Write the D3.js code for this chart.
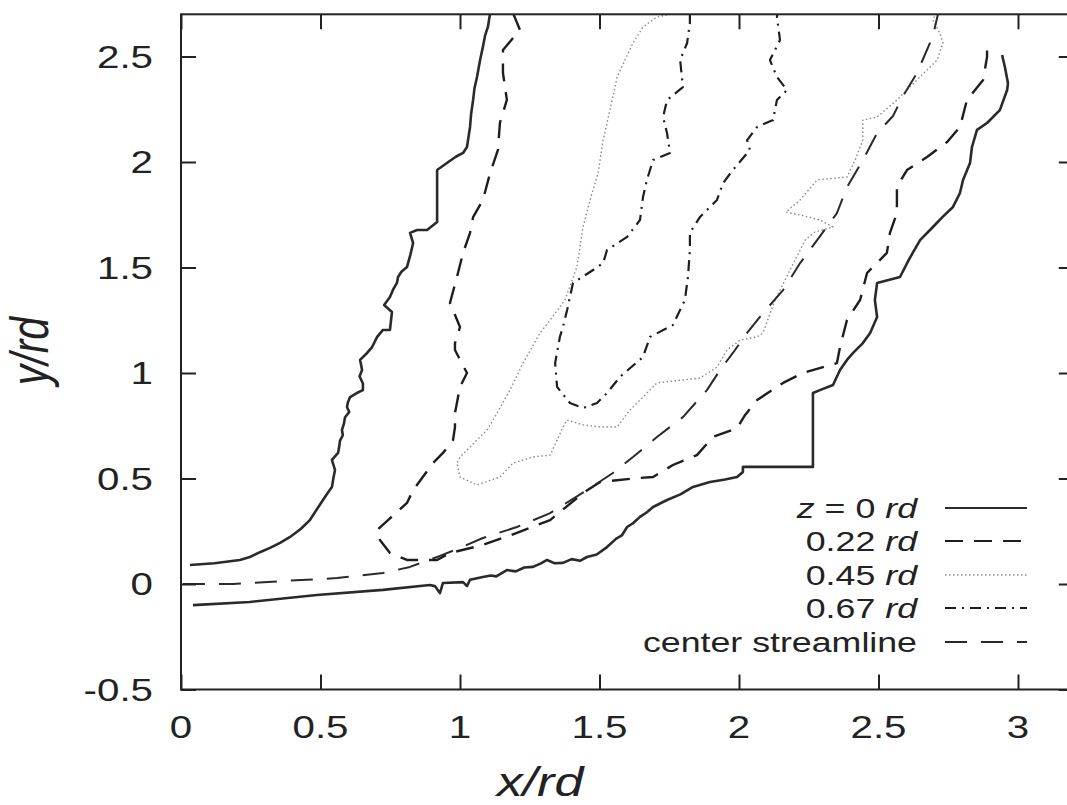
<!DOCTYPE html>
<html>
<head>
<meta charset="utf-8">
<script src="https://cdn.jsdelivr.net/npm/d3@7"></script>
<style>
  body { margin: 0; background: #fff; }
  svg { display: block; }
  text { font-family: "Liberation Sans", Arial, Helvetica, sans-serif; fill: #222; }
</style>
</head>
<body>
<svg id="chart" width="1067" height="805"></svg>
<script>
// Axis ticks and labels
const xTicks = [0, 0.5, 1, 1.5, 2, 2.5, 3];
const xTickLabels = ["0", "0.5", "1", "1.5", "2", "2.5", "3"];
const yTicks = [-0.5, 0, 0.5, 1, 1.5, 2, 2.5];
const yTickLabels = ["-0.5", "0", "0.5", "1", "1.5", "2", "2.5"];

// Contour lines of the jet boundary at several depths z (x/rd, y/rd); null splits a branch
const z000 = [
  [1.108, 2.706], [1.100, 2.640], [1.090, 2.600], [1.082, 2.545], [1.072, 2.483], [1.066, 2.440],
  [1.061, 2.403], [1.052, 2.350], [1.047, 2.294], [1.040, 2.230], [1.036, 2.166], [1.025, 2.071],
  [1.011, 2.043], [0.985, 2.025], [0.953, 1.995], [0.918, 1.962], [0.918, 1.716],
  [0.882, 1.678], [0.846, 1.678], [0.821, 1.664], [0.832, 1.616], [0.822, 1.560], [0.810, 1.502],
  [0.790, 1.480], [0.778, 1.455], [0.774, 1.427], [0.760, 1.395], [0.749, 1.360], [0.728, 1.322],
  [0.756, 1.289], [0.749, 1.204], [0.724, 1.204], [0.703, 1.171], [0.685, 1.123], [0.667, 1.095],
  [0.642, 1.062], [0.649, 1.014], [0.640, 0.985], [0.652, 0.950], [0.652, 0.919], [0.630, 0.905],
  [0.606, 0.886], [0.598, 0.860], [0.595, 0.839], [0.603, 0.815], [0.588, 0.790], [0.584, 0.760],
  [0.577, 0.730], [0.580, 0.705], [0.570, 0.680], [0.567, 0.650], [0.563, 0.621], [0.541, 0.588],
  [0.552, 0.540], [0.546, 0.500], [0.541, 0.460], [0.525, 0.430], [0.509, 0.398], [0.490, 0.360],
  [0.462, 0.303], [0.430, 0.262], [0.391, 0.223], [0.355, 0.195], [0.319, 0.171], [0.285, 0.152],
  [0.247, 0.128], [0.211, 0.114], [0.120, 0.098], [0.032, 0.090],
  null,
  [0.043, -0.100], [0.247, -0.085], [0.487, -0.052], [0.724, -0.028], [0.892, -0.005], [0.910, -0.010],
  [0.928, -0.043], [0.939, 0.005], [1.011, 0.009], [1.025, -0.010], [1.036, 0.020], [1.082, 0.033],
  [1.110, 0.040], [1.130, 0.036], [1.168, 0.066], [1.200, 0.060], [1.230, 0.078], [1.262, 0.081],
  [1.290, 0.098], [1.312, 0.114], [1.340, 0.098], [1.369, 0.100], [1.400, 0.118], [1.430, 0.110],
  [1.455, 0.128], [1.490, 0.140], [1.527, 0.175], [1.560, 0.215], [1.580, 0.230], [1.599, 0.270],
  [1.620, 0.288], [1.645, 0.318], [1.670, 0.340], [1.692, 0.365], [1.742, 0.398], [1.790, 0.425],
  [1.835, 0.460], [1.896, 0.483], [1.950, 0.495], [1.993, 0.507], [2.014, 0.531], [2.014, 0.555],
  [2.265, 0.555], [2.265, 0.905], [2.290, 0.919], [2.337, 0.943], [2.362, 1.014], [2.387, 1.062],
  [2.409, 1.095], [2.444, 1.142], [2.470, 1.190], [2.495, 1.265], [2.487, 1.346], [2.495, 1.427],
  [2.577, 1.455], [2.610, 1.540], [2.649, 1.630], [2.695, 1.692], [2.730, 1.740], [2.767, 1.787],
  [2.792, 1.853], [2.803, 1.915], [2.828, 1.995], [2.835, 2.071], [2.853, 2.152], [2.889, 2.185],
  [2.935, 2.246], [2.961, 2.341], [2.964, 2.374], [2.953, 2.450], [2.943, 2.507]
];

const z022 = [
  [1.190, 2.706], [1.215, 2.626], [1.154, 2.531], [1.154, 2.422], [1.168, 2.294], [1.143, 2.185],
  [1.136, 2.057], [1.108, 1.948], [1.082, 1.820], [1.047, 1.739], [1.036, 1.664], [1.011, 1.569],
  [0.989, 1.455], [0.964, 1.332], [1.000, 1.218], [0.982, 1.142], [0.982, 1.109], [1.025, 1.000],
  [1.000, 0.934], [0.993, 0.886], [0.982, 0.810], [0.982, 0.744], [0.975, 0.682], [0.939, 0.621],
  [0.903, 0.573], [0.832, 0.445], [0.810, 0.384], [0.742, 0.303], [0.703, 0.256], [0.713, 0.209],
  [0.749, 0.147], [0.810, 0.114], [0.857, 0.114], [0.918, 0.114], [0.964, 0.147], [1.082, 0.185],
  [1.204, 0.242], [1.323, 0.303], [1.441, 0.431], [1.502, 0.483], [1.634, 0.502], [1.692, 0.507],
  [1.763, 0.564], [1.849, 0.611], [1.907, 0.697], [1.993, 0.739], [2.022, 0.801], [2.065, 0.872],
  [2.158, 0.953], [2.229, 1.000], [2.351, 1.047], [2.362, 1.123], [2.387, 1.251], [2.434, 1.346],
  [2.459, 1.474], [2.530, 1.569], [2.541, 1.664], [2.566, 1.758], [2.566, 1.882], [2.602, 1.962],
  [2.674, 2.024], [2.746, 2.095], [2.792, 2.166], [2.817, 2.294], [2.875, 2.389], [2.889, 2.498],
  [2.889, 2.531]
];

const z045 = [
  [1.742, 2.697], [1.706, 2.687], [1.656, 2.640], [1.620, 2.564], [1.563, 2.403], [1.548, 2.308],
  [1.513, 2.104], [1.495, 1.948], [1.466, 1.820], [1.441, 1.692], [1.419, 1.502], [1.376, 1.346],
  [1.323, 1.251], [1.287, 1.190], [1.226, 1.047], [1.179, 0.919], [1.133, 0.810], [1.097, 0.730],
  [1.000, 0.602], [0.989, 0.573], [1.000, 0.507], [1.061, 0.469], [1.143, 0.507], [1.190, 0.573],
  [1.262, 0.602], [1.323, 0.611], [1.348, 0.682], [1.369, 0.744], [1.384, 0.777], [1.441, 0.754],
  [1.502, 0.744], [1.563, 0.744], [1.609, 0.825], [1.656, 0.886], [1.706, 0.953], [1.860, 0.976],
  [1.921, 1.028], [1.957, 1.109], [2.004, 1.156], [2.065, 1.171], [2.086, 1.190], [2.129, 1.346],
  [2.183, 1.488], [2.237, 1.630], [2.272, 1.668], [2.337, 1.692], [2.290, 1.725], [2.219, 1.749],
  [2.168, 1.763], [2.219, 1.820], [2.280, 1.915], [2.387, 1.929], [2.416, 2.009], [2.444, 2.104],
  [2.444, 2.199], [2.495, 2.213], [2.566, 2.294], [2.638, 2.389], [2.710, 2.483], [2.731, 2.564],
  [2.720, 2.611], [2.695, 2.673], [2.713, 2.730]
];

const z067 = [
  [1.824, 2.706], [1.824, 2.659], [1.814, 2.564], [1.789, 2.483], [1.799, 2.355], [1.742, 2.294],
  [1.728, 2.213], [1.742, 2.137], [1.753, 2.043], [1.692, 2.009], [1.670, 1.915], [1.656, 1.834],
  [1.645, 1.725], [1.599, 1.645], [1.527, 1.583], [1.513, 1.521], [1.477, 1.488], [1.405, 1.427],
  [1.384, 1.299], [1.369, 1.218], [1.358, 1.171], [1.341, 1.047], [1.348, 0.934], [1.394, 0.858],
  [1.441, 0.834], [1.491, 0.858], [1.527, 0.905], [1.573, 0.981], [1.656, 1.076], [1.681, 1.171],
  [1.763, 1.227], [1.806, 1.346], [1.817, 1.455], [1.824, 1.583], [1.824, 1.664], [1.860, 1.739],
  [1.921, 1.820], [1.943, 1.900], [1.978, 1.962], [2.039, 2.057], [2.029, 2.104], [2.065, 2.166],
  [2.122, 2.199], [2.136, 2.294], [2.172, 2.341], [2.136, 2.403], [2.111, 2.483], [2.147, 2.578],
  [2.136, 2.687], [2.140, 2.730]
];

const streamline = [
  [0.007, 0.000], [0.186, 0.000], [0.366, 0.014], [0.559, 0.028], [0.724, 0.052], [0.821, 0.081],
  [0.928, 0.133], [1.000, 0.171], [1.082, 0.218], [1.204, 0.270], [1.323, 0.336], [1.455, 0.445],
  [1.548, 0.526], [1.620, 0.602], [1.706, 0.697], [1.799, 0.791], [1.885, 0.919], [1.932, 1.014],
  [1.978, 1.095], [2.029, 1.190], [2.086, 1.284], [2.158, 1.393], [2.219, 1.521], [2.280, 1.630],
  [2.351, 1.758], [2.387, 1.881], [2.444, 2.009], [2.495, 2.137], [2.552, 2.218], [2.588, 2.313],
  [2.638, 2.422], [2.695, 2.597], [2.720, 2.740]
];

const seriesLabels = ["z = 0 rd", "0.22 rd", "0.45 rd", "0.67 rd", "center streamline"];

const series = [
  { label: seriesLabels[0], data: z000, color: "#2a2a2a", width: 2.6, dash: null },
  { label: seriesLabels[1], data: z022, color: "#1e1e1e", width: 2.4, dash: "18,11" },
  { label: seriesLabels[2], data: z045, color: "#8a8a8a", width: 1.4, dash: "1.5,2.5" },
  { label: seriesLabels[3], data: z067, color: "#1e1e1e", width: 2.2, dash: "11,6,2,6" },
  { label: seriesLabels[4], data: streamline, color: "#2a2a2a", width: 2.0, dash: "22,14" }
];

const svg = d3.select("#chart");
const plotLeft = 181, plotBottom = 689.5, plotTop = 14.3;
const x = d3.scaleLinear().domain([0, 3.2]).range([plotLeft, plotLeft + 3.2 * 279]);
const y = d3.scaleLinear().domain([-0.5, 2.7]).range([plotBottom, plotTop]);
const sx = 1.3; // horizontal text stretch

svg.append("rect").attr("width", 1067).attr("height", 805).attr("fill", "#fff");

svg.append("clipPath").attr("id", "plotClip")
  .append("rect")
  .attr("x", x(0)).attr("y", y(2.7))
  .attr("width", x(3.2) - x(0)).attr("height", y(-0.5) - y(2.7));

// Contour lines
const line = d3.line()
  .defined(d => d !== null)
  .x(d => x(d[0]))
  .y(d => y(d[1]));

const plot = svg.append("g").attr("clip-path", "url(#plotClip)");
series.forEach(s => {
  plot.append("path")
    .datum(s.data)
    .attr("d", line)
    .attr("fill", "none")
    .attr("stroke", s.color)
    .attr("stroke-width", s.width)
    .attr("stroke-linejoin", "round")
    .attr("stroke-dasharray", s.dash);
});

// Frame
svg.append("rect")
  .attr("x", x(0)).attr("y", y(2.7))
  .attr("width", x(3.2) - x(0)).attr("height", y(-0.5) - y(2.7))
  .attr("fill", "none").attr("stroke", "#222").attr("stroke-width", 2);

// Inward ticks on all four sides
const tickLen = 15;
const xAxisB = d3.axisBottom(x).tickValues(xTicks).tickSize(-tickLen).tickFormat("");
const xAxisT = d3.axisTop(x).tickValues(xTicks).tickSize(-tickLen).tickFormat("");
const yAxisL = d3.axisLeft(y).tickValues(yTicks).tickSize(-tickLen).tickFormat("");
const yAxisR = d3.axisRight(y).tickValues(yTicks).tickSize(-tickLen).tickFormat("");
[[xAxisB, `translate(0,${y(-0.5)})`], [xAxisT, `translate(0,${y(2.7)})`],
 [yAxisL, `translate(${x(0)},0)`], [yAxisR, `translate(${x(3.2)},0)`]].forEach(([ax, tr]) => {
  const g = svg.append("g").attr("transform", tr).call(ax);
  g.select(".domain").remove();
  g.selectAll(".tick line").attr("stroke", "#222").attr("stroke-width", 2);
});

// Tick labels
svg.append("g").selectAll("text").data(xTicks).join("text")
  .attr("transform", d => `translate(${x(d)},738) scale(${sx},1)`)
  .attr("text-anchor", "middle")
  .attr("font-size", 31)
  .text((d, i) => xTickLabels[i]);

svg.append("g").selectAll("text").data(yTicks).join("text")
  .attr("transform", d => `translate(153,${y(d) + 11}) scale(${sx},1)`)
  .attr("text-anchor", "end")
  .attr("font-size", 31)
  .text((d, i) => yTickLabels[i]);

// Axis titles
svg.append("text")
  .attr("transform", `translate(540,796) scale(${sx},1)`)
  .attr("text-anchor", "middle")
  .attr("font-size", 40)
  .attr("font-style", "italic")
  .text("x/rd");

svg.append("text")
  .attr("transform", `translate(48,351) scale(${sx},1) rotate(-90)`)
  .attr("text-anchor", "middle")
  .attr("font-size", 41)
  .attr("font-style", "italic")
  .text("y/rd");

// Legend
const legendRows = [508, 541, 575, 608, 642];
const legend = svg.append("g");
series.forEach((s, i) => {
  const t = legend.append("text")
    .attr("transform", `translate(917,${legendRows[i] + 9.5}) scale(${sx},1)`)
    .attr("text-anchor", "end")
    .attr("font-size", 27.5);
  if (i === 0) {
    t.append("tspan").attr("font-style", "italic").text("z");
    t.append("tspan").text(" = 0 ");
    t.append("tspan").attr("font-style", "italic").text("rd");
  } else if (i < 4) {
    t.append("tspan").text(s.label.replace(" rd", "") + " ");
    t.append("tspan").attr("font-style", "italic").text("rd");
  } else {
    t.text(s.label);
  }
  legend.append("line")
    .attr("x1", 945).attr("x2", 1027)
    .attr("y1", legendRows[i]).attr("y2", legendRows[i])
    .attr("stroke", s.color)
    .attr("stroke-width", Math.min(s.width, 2))
    .attr("stroke-dasharray", s.dash);
});
</script>
</body>
</html>
